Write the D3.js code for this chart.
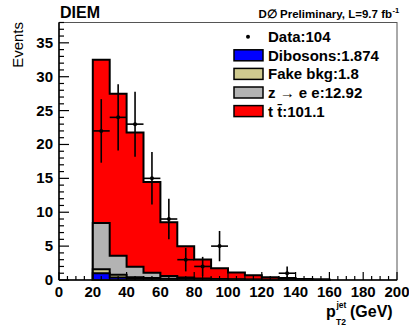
<!DOCTYPE html>
<html>
<head>
<meta charset="utf-8">
<script src="https://cdn.jsdelivr.net/npm/d3@7"></script>
<style>
  body { margin: 0; background: #fff; }
  svg { display: block; }
  text { font-family: "Liberation Sans", Arial, sans-serif; font-weight: bold; fill: #000; }
</style>
</head>
<body>
<script>
// bins of 10 GeV, low edges
var binEdges = [20, 30, 40, 50, 60, 70, 80, 90, 100, 110, 120, 130, 140, 150, 160];
// per-bin yields (stacked bottom to top)
var dibosons = [1.0, 0.38, 0.17, 0.1, 0.07, 0.05, 0.03, 0.02, 0.02, 0.01, 0.01, 0.005, 0.005, 0.003];
var fakeBkg  = [0.6, 0.4, 0.25, 0.18, 0.12, 0.08, 0.06, 0.04, 0.03, 0.02, 0.01, 0.005, 0.003, 0.002];
var zee      = [6.8, 2.8, 1.55, 0.8, 0.4, 0.25, 0.13, 0.08, 0.05, 0.03, 0.02, 0.01, 0.005, 0.005];
var ttbar    = [24.1, 23.9, 19.8, 13.4, 7.95, 4.6, 2.8, 1.6, 1.0, 0.65, 0.36, 0.28, 0.14, 0.09];
// data counts per bin
var dataCounts = [22, 24, 23, 15, 9, 3, 2, 5, 0, 0, 0, 1, 0, 0];

var legendItems = [
  {label: "Data:104", type: "data"},
  {label: "Dibosons:1.874", color: "#0000ff"},
  {label: "Fake bkg:1.8", color: "#cfca8f"},
  {label: "z \u2192 e e:12.92", color: "#b3b3b3"},
  {label: "t t\u0304:101.1", color: "#ff0000"}
];

var width = 409, height = 327,
    margins = {top: 22.5, left: 59, right: 12, bottom: 47};
var qw = width - margins.left - margins.right,
    qh = height - margins.top - margins.bottom;

var x = d3.scaleLinear().domain([0, 200]).range([0, qw]);
var y = d3.scaleLinear().domain([0, 38]).range([qh, 0]);

var svg = d3.select("body").append("svg")
    .attr("width", width).attr("height", height);

var g = svg.append("g")
    .attr("transform", "translate(" + margins.left + "," + margins.top + ")");

// cumulative stacks
function cumulate(list) {
  var out = [], acc = dibosons.map(function () { return 0; });
  list.forEach(function (arr) {
    acc = acc.map(function (v, i) { return v + arr[i]; });
    out.push(acc.slice());
  });
  return out;
}
var stacks = cumulate([dibosons, fakeBkg, zee, ttbar]);
var stackColors = ["#0000ff", "#cfca8f", "#b3b3b3", "#ff0000"];

function stepPoints(vals) {
  var pts = [[x(binEdges[0]), y(0)]];
  vals.forEach(function (v, i) {
    pts.push([x(binEdges[i]), y(v)]);
    pts.push([x(binEdges[i + 1]), y(v)]);
  });
  pts.push([x(binEdges[binEdges.length - 1]), y(0)]);
  return pts;
}

// draw top of stack first
for (var k = stacks.length - 1; k >= 0; k--) {
  g.append("path")
    .attr("d", d3.line()(stepPoints(stacks[k])) + "Z")
    .attr("fill", stackColors[k])
    .attr("stroke", "#000")
    .attr("stroke-width", 2)
    .attr("stroke-linejoin", "miter");
}

// data points
var pts = dataCounts.map(function (n, i) {
  return {lo: binEdges[i], hi: binEdges[i + 1], n: n};
}).filter(function (d) { return d.n > 0; });

var dg = g.append("g").attr("class", "data");
pts.forEach(function (d) {
  var cx = x((d.lo + d.hi) / 2), e = Math.sqrt(d.n);
  dg.append("line").attr("x1", x(d.lo)).attr("x2", x(d.hi))
    .attr("y1", y(d.n)).attr("y2", y(d.n))
    .attr("stroke", "#000").attr("stroke-width", 1.6);
  dg.append("line").attr("x1", cx).attr("x2", cx)
    .attr("y1", y(d.n - e)).attr("y2", y(d.n + e))
    .attr("stroke", "#000").attr("stroke-width", 1.6);
  dg.append("circle").attr("cx", cx).attr("cy", y(d.n)).attr("r", 2).attr("fill", "#000");
});

// frame
g.append("rect").attr("width", qw).attr("height", qh)
  .attr("fill", "none").attr("stroke", "#555").attr("stroke-width", 1);
g.append("line").attr("x1", 0).attr("x2", 0).attr("y1", 0).attr("y2", qh)
  .attr("stroke", "#000").attr("stroke-width", 1.5);
g.append("line").attr("x1", 0).attr("x2", qw).attr("y1", qh).attr("y2", qh)
  .attr("stroke", "#000").attr("stroke-width", 1.5);

// y ticks
d3.range(0, 39, 1).forEach(function (v) {
  var major = v % 5 === 0;
  g.append("line").attr("x1", 0).attr("x2", major ? 10 : 5)
    .attr("y1", y(v)).attr("y2", y(v))
    .attr("stroke", "#000").attr("stroke-width", 1.2);
  if (major) {
    g.append("text").attr("x", -6).attr("y", y(v) + 5)
      .attr("text-anchor", "end").attr("font-size", 15).text(v);
  }
});

// x ticks
d3.range(0, 201, 5).forEach(function (v) {
  var major = v % 20 === 0;
  g.append("line").attr("x1", x(v)).attr("x2", x(v))
    .attr("y1", qh).attr("y2", qh - (major ? 8 : 4))
    .attr("stroke", "#000").attr("stroke-width", 1.2);
  if (major) {
    g.append("text").attr("x", x(v)).attr("y", qh + 17)
      .attr("text-anchor", "middle").attr("font-size", 15).text(v);
  }
});

// axis titles
svg.append("text")
  .attr("transform", "translate(23,22) rotate(-90)")
  .attr("text-anchor", "end").attr("font-size", 15)
  .style("font-weight", "normal")
  .text("Events");

svg.append("text").attr("x", 326).attr("y", 317).attr("font-size", 16).text("p");
svg.append("text").attr("x", 336.5).attr("y", 307.5).attr("font-size", 8.5).text("jet");
svg.append("text").attr("x", 336).attr("y", 325).attr("font-size", 8.5).text("T2");
svg.append("text").attr("x", 350).attr("y", 317).attr("font-size", 16).text("(GeV)");

// titles
svg.append("text").attr("x", 60).attr("y", 18).attr("font-size", 16).text("DIEM");
svg.append("text").attr("x", 392).attr("y", 18.3)
  .attr("text-anchor", "end").attr("font-size", 11.5)
  .text("D\u2205 Preliminary, L=9.7 fb");
svg.append("text").attr("x", 392.5).attr("y", 12.5)
  .attr("font-size", 7.5).text("-1");

// legend
var lg = svg.append("g");
legendItems.forEach(function (d, i) {
  var cy = 36.7 + i * 18.6;
  if (d.type === "data") {
    lg.append("circle").attr("cx", 248).attr("cy", cy).attr("r", 2).attr("fill", "#000");
  } else {
    lg.append("rect").attr("x", 234).attr("y", cy - 5.5).attr("width", 29).attr("height", 11)
      .attr("fill", d.color).attr("stroke", "#000").attr("stroke-width", 1.5);
  }
  lg.append("text").attr("x", 268).attr("y", cy + 5.5).attr("font-size", 15).text(d.label);
});
</script>
</body>
</html>
